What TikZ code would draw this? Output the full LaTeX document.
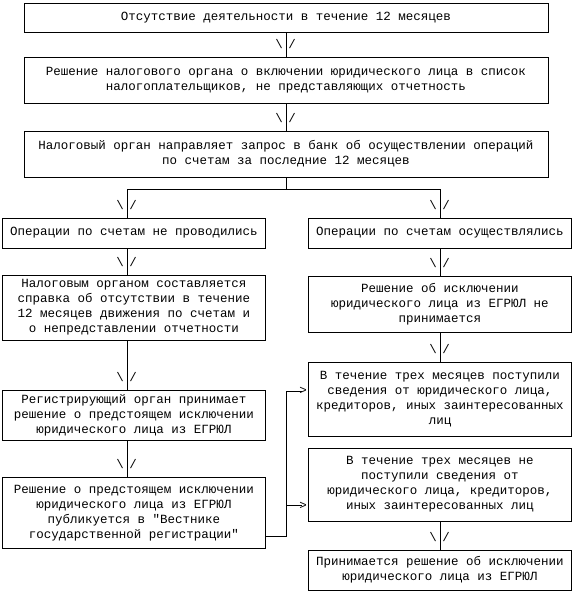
\documentclass[tikz,border=0pt]{standalone}
\usepackage{fontspec}
\newfontfamily\monofont{Liberation Mono}
% down connector with the "\ /" marks beside its end
\newcommand{\flowdown}[3][0pt]{%
  \draw ([xshift=#1]#2.south) -- ([xshift=#1]#3.north);
  \node[tick] at ([xshift=#1-7pt,yshift=13pt]#3.north) {\textbackslash};
  \node[tick] at ([xshift=#1+6pt,yshift=13pt]#3.north) {/};
}
\begin{document}
\begin{tikzpicture}[x=1pt,y=-1pt,line width=.9pt,
flowbox/.style={draw,rectangle,inner sep=2pt,align=center,font=\monofont\fontsize{12.5}{15}\selectfont},
widebox/.style={flowbox,minimum width=524pt},
colbox/.style={flowbox,minimum width=263pt},
tick/.style={inner sep=0pt,font=\monofont\fontsize{12.5}{15}\selectfont}]
\useasboundingbox (0,0) rectangle (573,600);
\node[widebox,minimum height=29pt] (top) at (286,17.5) {Отсутствие деятельности в течение 12 месяцев};
\node[widebox,minimum height=46pt] (decide) at (286,80) {Решение налогового органа о включении юридического лица в список\\налогоплательщиков, не представляющих отчетность};
\node[widebox,minimum height=46pt] (query) at (286,154) {Налоговый орган направляет запрос в банк об осуществлении операций\\по счетам за последние 12 месяцев};
\node[colbox,minimum height=30pt] (none) at (134,233) {Операции по счетам не проводились};
\node[colbox,minimum height=30pt] (done) at (440,233) {Операции по счетам осуществлялись};
\node[colbox,minimum height=65pt] (cert) at (134,307.5) {Налоговым органом составляется\\справка об отсутствии в течение\\12 месяцев движения по счетам и\\о непредставлении отчетности};
\node[colbox,minimum height=50pt] (regorg) at (134,415) {Регистрирующий орган принимает\\решение о предстоящем исключении\\юридического лица из ЕГРЮЛ};
\node[colbox,minimum height=71pt] (publish) at (134,513) {Решение о предстоящем исключении\\юридического лица из ЕГРЮЛ\\публикуется в "Вестнике\\государственной регистрации"};
\node[colbox,minimum height=56pt] (notexcl) at (440,304) {Решение об исключении\\юридического лица из ЕГРЮЛ не\\принимается};
\node[colbox,minimum height=74pt] (received) at (440,399) {В течение трех месяцев поступили\\сведения от юридического лица,\\кредиторов, иных заинтересованных\\лиц};
\node[colbox,minimum height=73pt] (notrecv) at (440,484.5) {В течение трех месяцев не\\поступили сведения от\\юридического лица, кредиторов,\\иных заинтересованных лиц};
\node[colbox,minimum height=40pt] (excl) at (440,570) {Принимается решение об исключении\\юридического лица из ЕГРЮЛ};
\flowdown{top}{decide}
\flowdown{decide}{query}
\draw (query.south) -- ++(0,12) coordinate (fork);
\draw ([xshift=-7pt]none.north) |- (fork) -| (done.north);
\node[tick] at ([xshift=-14pt,yshift=13pt]none.north) {\textbackslash};
\node[tick] at ([xshift=-1pt,yshift=13pt]none.north) {/};
\node[tick] at ([xshift=-7pt,yshift=13pt]done.north) {\textbackslash};
\node[tick] at ([xshift=6pt,yshift=13pt]done.north) {/};
\flowdown[-7pt]{none}{cert}
\flowdown[-7pt]{cert}{regorg}
\flowdown[-7pt]{regorg}{publish}
\flowdown{done}{notexcl}
\flowdown{notexcl}{received}
\flowdown{notrecv}{excl}
\draw ([yshift=-23pt]publish.east) -| ([xshift=-22pt,yshift=8pt]received.west) -- ([xshift=-6pt,yshift=8pt]received.west);
\draw ([xshift=-22pt,yshift=-21pt]notrecv.west) -- ([xshift=-6pt,yshift=-21pt]notrecv.west);
\node[tick] at ([xshift=-5pt,yshift=8pt]received.west) {>};
\node[tick] at ([xshift=-5pt,yshift=-21pt]notrecv.west) {>};
\end{tikzpicture}
\end{document}
